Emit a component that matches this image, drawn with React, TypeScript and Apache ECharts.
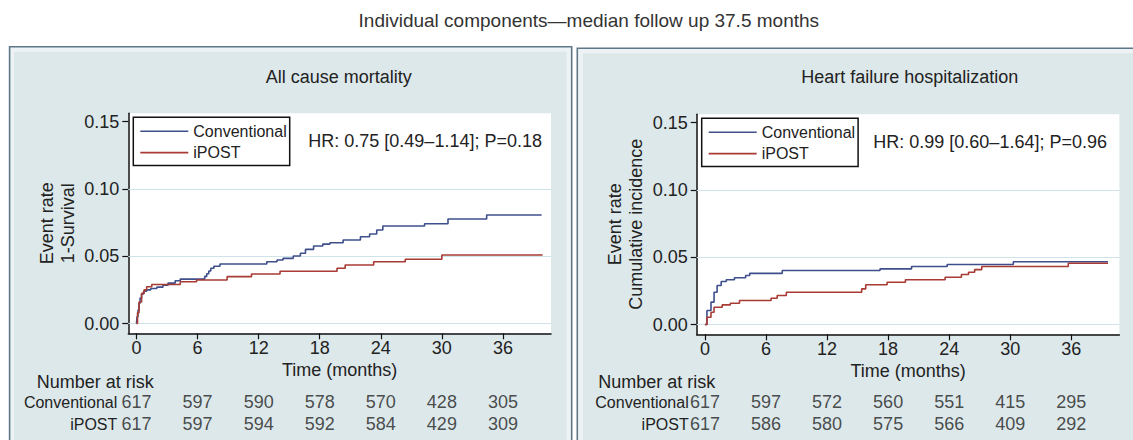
import React, { useEffect, useRef } from "react";
import * as echarts from "echarts";

// ---------- data ----------
const xTicks = [0, 6, 12, 18, 24, 30, 36];
const yTicks = [0, 0.05, 0.1, 0.15];
const gridValues = [0, 0.05, 0.1];
const groups = ["Conventional", "iPOST"];

const panelTitles = ["All cause mortality", "Heart failure hospitalization"];
const hrTexts = ["HR: 0.75 [0.49\u20131.14]; P=0.18", "HR: 0.99 [0.60\u20131.64]; P=0.96"];
const yNames = ["Event rate\n1-Survival", "Event rate\nCumulative incidence"];

const acmConventional: [number, number][] = [
  [0, 0], [0.05, 0.005], [0.15, 0.01], [0.25, 0.015], [0.35, 0.019], [0.5, 0.022],
  [0.7, 0.024], [1.0, 0.025], [1.4, 0.026], [2.0, 0.027], [2.6, 0.0285], [3.1, 0.03],
  [3.8, 0.0318], [4.3, 0.033], [6.7, 0.035], [6.9, 0.037], [7.1, 0.039], [7.3, 0.041],
  [7.6, 0.0425], [8.2, 0.0442], [12.8, 0.0459], [13.8, 0.0472], [14.4, 0.0484],
  [15.4, 0.0502], [16.1, 0.0522], [16.6, 0.0551], [17.4, 0.0576], [18.3, 0.059],
  [19.0, 0.06], [20.3, 0.062], [22.0, 0.0645], [22.9, 0.0665], [23.6, 0.0695],
  [24.2, 0.0724], [28.3, 0.0741], [30.6, 0.0776], [34.4, 0.0806], [39.8, 0.0806],
];
const acmIPOST: [number, number][] = [
  [0, 0], [0.1, 0.008], [0.25, 0.016], [0.5, 0.0224], [0.75, 0.025], [1.0, 0.0273],
  [1.5, 0.029], [4.3, 0.031], [5.9, 0.0323], [8.9, 0.0348], [11.3, 0.0368],
  [14.1, 0.0388], [19.7, 0.041], [20.5, 0.0435], [23.3, 0.0459], [26.4, 0.0477],
  [30.0, 0.0509], [39.9, 0.0509],
];
const hfConventional: [number, number][] = [
  [0, 0], [0.2, 0.0104], [0.6, 0.0166], [0.9, 0.024], [1.2, 0.029], [1.6, 0.0319],
  [2.1, 0.0332], [2.9, 0.0347], [4.0, 0.0364], [4.4, 0.038], [7.6, 0.0401],
  [17.2, 0.0413], [20.3, 0.0431], [23.8, 0.0446], [30.3, 0.0466], [39.6, 0.0466],
];
const hfIPOST: [number, number][] = [
  [0, 0], [0.2, 0.0054], [0.6, 0.0091], [0.9, 0.0128], [1.7, 0.0146], [2.5, 0.0158],
  [3.4, 0.0178], [6.5, 0.0195], [7.1, 0.0215], [8.0, 0.024], [15.4, 0.0265],
  [15.8, 0.0295], [17.9, 0.0314], [19.7, 0.0332], [23.6, 0.0351], [25.2, 0.0371],
  [25.9, 0.0388], [26.5, 0.0408], [27.2, 0.0431], [35.7, 0.0455], [39.6, 0.0455],
];

const acmRiskConventional = [617, 597, 590, 578, 570, 428, 305];
const acmRiskIPOST = [617, 597, 594, 592, 584, 429, 309];
const hfRiskConventional = [617, 597, 572, 560, 551, 415, 295];
const hfRiskIPOST = [617, 586, 580, 575, 566, 409, 292];

// ---------- styling / layout ----------
const BLUE = "#3f4f8c";
const RED = "#a83b33";
const TXT = "#222";
const FONT = "'Liberation Sans', Arial, Helvetica, sans-serif";
const X_MIN = -0.805;
const X_MAX = 40.72;
const Y_MIN = -0.00728;
const Y_MAX = 0.15617;
const LEGEND_ICON = "path://M0,0H48V1.6H0Z";

const panels = [
  { frameX: 9.6, frameY: 46.7, frameR: 571.7, innerX: 14, innerR: 566.5, plotLeft: 128.3, plotTop: 113.3, titleX: 338.7, hrX: 308.3, hrY: 140.7, narX: 36.7, rowMargin: 11 },
  { frameX: 577.3, frameY: 48.3, frameR: 1145, innerX: 583, innerR: 1140, plotLeft: 696.7, plotTop: 114.3, titleX: 909.7, hrX: 873.3, hrY: 141.7, narX: 598.3, rowMargin: 8 },
];
const PLOT_W = 422.7;
const PLOT_H = 220;

export default function App() {
  const ref = useRef<HTMLDivElement>(null);

  useEffect(() => {
    if (!ref.current) return;
    const chart = echarts.init(ref.current, null, { renderer: "svg" });

    const curves = [
      [acmConventional, acmIPOST],
      [hfConventional, hfIPOST],
    ];
    const risks = [
      [acmRiskConventional, acmRiskIPOST],
      [hfRiskConventional, hfRiskIPOST],
    ];

    const grid: any[] = [];
    const xAxis: any[] = [];
    const yAxis: any[] = [];
    const series: any[] = [];
    const legend: any[] = [];
    const graphic: any[] = [];

    graphic.push({
      type: "text",
      x: 588.8,
      y: 20.7,
      z: 10,
      style: { text: "Individual components\u2014median follow up 37.5 months", fill: "#333", font: `19px ${FONT}`, textAlign: "center", textVerticalAlign: "middle" },
    });

    panels.forEach((p, i) => {
      // frames
      graphic.push({
        type: "rect", z: -2,
        shape: { x: p.frameX, y: p.frameY, width: p.frameR - p.frameX, height: 460 - p.frameY },
        style: { fill: "#edf3f4", stroke: "#5f7889", lineWidth: 1.6 },
      });
      graphic.push({
        type: "rect", z: -1,
        shape: { x: p.innerX, y: p.frameY + 5, width: p.innerR - p.innerX, height: 460 - p.frameY },
        style: { fill: "#dde8ea" },
      });
      graphic.push({
        type: "text", z: 10, x: p.titleX, y: 77,
        style: { text: panelTitles[i], font: `18px ${FONT}`, fill: TXT, textAlign: "center", textVerticalAlign: "middle" },
      });
      graphic.push({
        type: "text", z: 10, x: p.hrX, y: p.hrY,
        style: { text: hrTexts[i], font: `18px ${FONT}`, fill: TXT, textAlign: "left", textVerticalAlign: "middle" },
      });
      graphic.push({
        type: "text", z: 10, x: p.narX, y: 382,
        style: { text: "Number at risk", font: `18px ${FONT}`, fill: TXT, textAlign: "left", textVerticalAlign: "middle" },
      });

      // plot grid
      grid.push({
        left: p.plotLeft, top: p.plotTop, width: PLOT_W, height: PLOT_H,
        show: true, backgroundColor: "#ffffff", borderWidth: 0,
      });
      // risk grid
      grid.push({ left: p.plotLeft, top: 391, width: PLOT_W, height: 44, show: false });

      const gPlot = i * 2;
      const gRisk = i * 2 + 1;

      xAxis.push({
        type: "value", gridIndex: gPlot, min: X_MIN, max: X_MAX,
        name: "Time (months)", nameLocation: "middle", nameGap: 28,
        nameTextStyle: { fontSize: 18, color: TXT, fontFamily: FONT },
        axisLine: { show: true, onZero: false, lineStyle: { color: "#111", width: 1.5 } },
        axisTick: { show: true, customValues: xTicks, length: 6, lineStyle: { color: "#111", width: 1.2 } },
        axisLabel: { customValues: xTicks, fontSize: 18, color: TXT, margin: 6, fontFamily: FONT },
        splitLine: { show: false },
      });
      xAxis.push({ type: "value", gridIndex: gRisk, min: X_MIN, max: X_MAX, show: false });

      yAxis.push({
        type: "value", gridIndex: gPlot, min: Y_MIN, max: Y_MAX,
        name: yNames[i], nameLocation: "middle", nameGap: 50, nameRotate: 90,
        nameTextStyle: { fontSize: 18, color: TXT, lineHeight: 21, fontFamily: FONT },
        axisLine: { show: true, onZero: false, lineStyle: { color: "#111", width: 1.5 } },
        axisTick: { show: true, customValues: yTicks, length: 6, lineStyle: { color: "#111", width: 1.2 } },
        axisLabel: { customValues: yTicks, fontSize: 18, color: TXT, margin: 9, fontFamily: FONT, formatter: (v: number) => v.toFixed(2) },
        splitLine: { show: false },
      });
      yAxis.push({
        type: "category", gridIndex: gRisk, data: groups, inverse: true,
        axisLine: { show: false }, axisTick: { show: false },
        axisLabel: { fontSize: 16, color: TXT, margin: p.rowMargin, fontFamily: FONT },
        splitLine: { show: false },
      });

      groups.forEach((g, k) => {
        const color = k === 0 ? BLUE : RED;
        const s: any = {
          type: "line", name: g, xAxisIndex: gPlot, yAxisIndex: gPlot,
          data: curves[i][k], step: "end", symbol: "none", showSymbol: false,
          lineStyle: { color, width: 1.6 }, itemStyle: { color }, z: 4,
        };
        if (k === 0) {
          s.markLine = {
            silent: true, symbol: "none", z: 1, animation: false,
            label: { show: false },
            lineStyle: { color: "#cfe4e9", width: 1.2, type: "solid" },
            data: gridValues.map((v) => ({ yAxis: v })),
          };
        }
        series.push(s);

        series.push({
          type: "scatter", name: g + " at risk", xAxisIndex: gRisk, yAxisIndex: gRisk,
          symbolSize: 1, itemStyle: { color: "rgba(0,0,0,0)" },
          data: xTicks.map((t, j) => [t, g, risks[i][k][j]]),
          label: {
            show: true, position: "inside", fontSize: 18, color: TXT, fontFamily: FONT,
            formatter: (prm: any) => String(prm.value[2]),
          },
        });
      });

      legend.push({
        data: groups.map((g) => ({ name: g, icon: LEGEND_ICON })),
        orient: "vertical", left: p.plotLeft + 5, top: p.plotTop + 4,
        selectedMode: false, itemWidth: 48, itemHeight: 14, itemGap: 5.3,
        symbolKeepAspect: true,
        padding: [6, 3, 5, 7], borderColor: "#111", borderWidth: 1.5, borderRadius: 0,
        backgroundColor: "#ffffff",
        textStyle: { fontSize: 16, color: TXT, lineHeight: 16, fontFamily: FONT },
      });
    });

    chart.setOption({
      animation: false,
      textStyle: { fontFamily: FONT },
      grid, xAxis, yAxis, series, legend, graphic,
    });

    return () => chart.dispose();
  }, []);

  return (
    <div
      ref={ref}
      style={{ position: "absolute", left: 0, top: 0, width: 1133, height: 440, background: "#fff" }}
    />
  );
}
